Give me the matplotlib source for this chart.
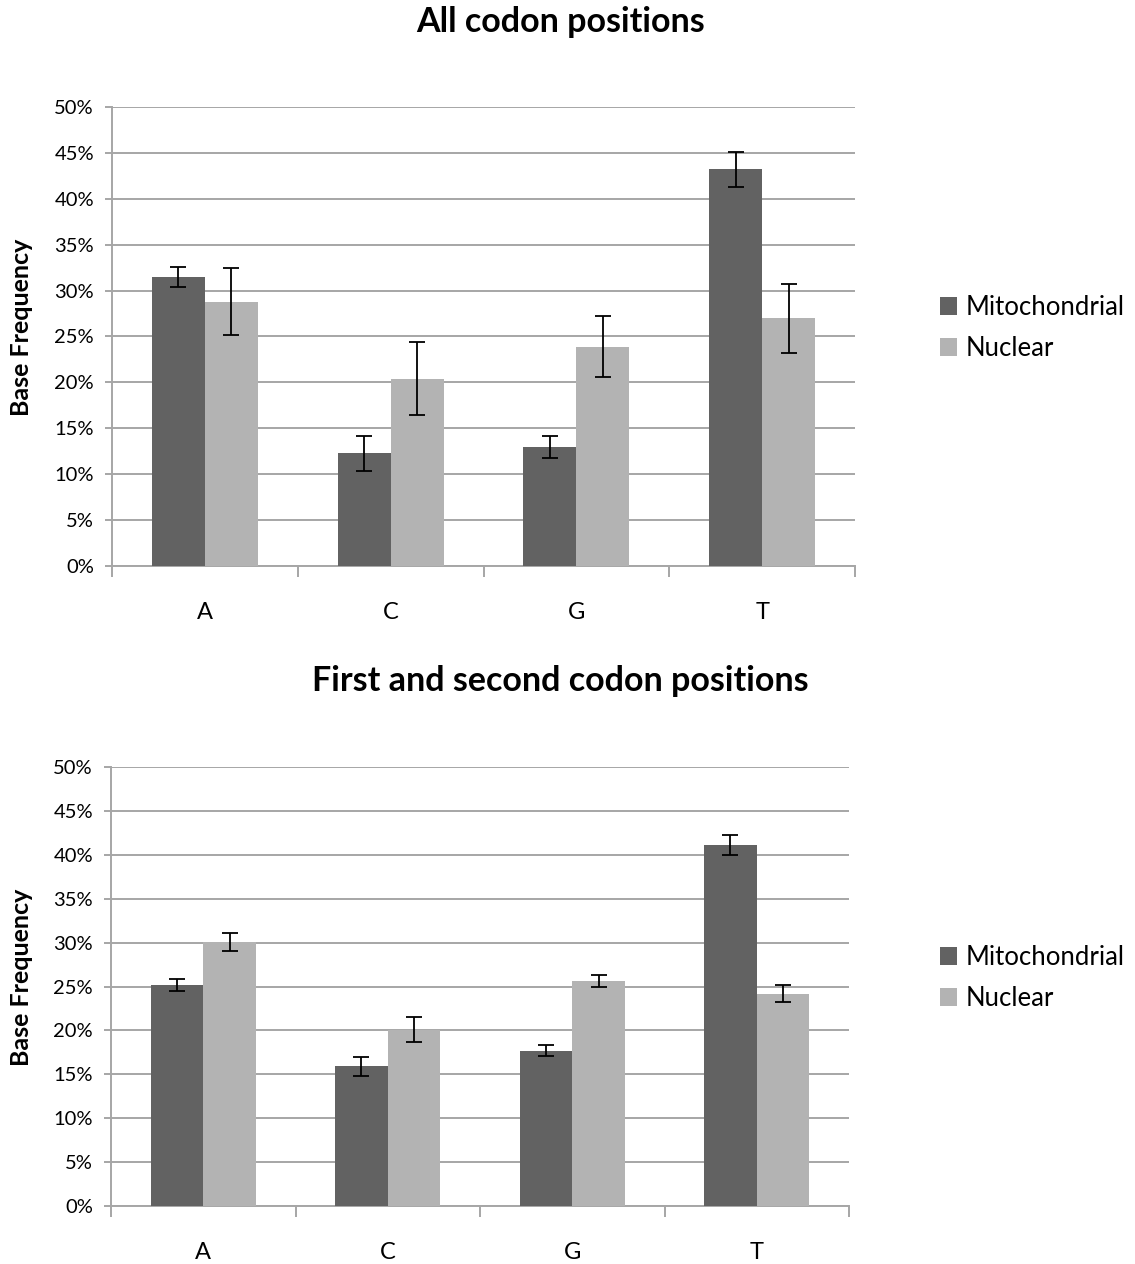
import numpy as np
import matplotlib
matplotlib.use('Agg')
import matplotlib.pyplot as plt
from matplotlib.ticker import MultipleLocator, FuncFormatter

plt.rcParams['font.family'] = ['Lato', 'DejaVu Sans']

bases = ['A', 'C', 'G', 'T']
series = ['Mitochondrial', 'Nuclear']
colors = ['#626262', '#b3b3b3']

# All codon positions (% base frequency and error)
all_mito = [31.5, 12.3, 13.0, 43.2]
all_mito_err = [1.1, 1.9, 1.2, 1.95]
all_nuc = [28.8, 20.4, 23.9, 27.0]
all_nuc_err = [3.65, 3.95, 3.35, 3.75]

# First and second codon positions
p12_mito = [25.2, 15.9, 17.7, 41.1]
p12_mito_err = [0.7, 1.1, 0.6, 1.15]
p12_nuc = [30.1, 20.1, 25.6, 24.2]
p12_nuc_err = [1.05, 1.45, 0.7, 1.0]

W, H = 1135, 1264
fig = plt.figure(figsize=(W / 100, H / 100), dpi=100)


def draw_panel(rect, title, title_y, mito, mito_err, nuc, nuc_err, legend_y):
    ax = fig.add_axes([rect[0] / W, 1 - rect[3] / H, (rect[2] - rect[0]) / W, (rect[3] - rect[1]) / H])
    x = np.arange(len(bases))
    bw = 1 / 3.5
    ekw = dict(ecolor='black', elinewidth=1.3, capsize=6, capthick=1.3)
    b1 = ax.bar(x - bw / 2, mito, bw, color=colors[0], yerr=mito_err, error_kw=ekw, zorder=3, label=series[0])
    b2 = ax.bar(x + bw / 2, nuc, bw, color=colors[1], yerr=nuc_err, error_kw=ekw, zorder=3, label=series[1])
    ax.set_xlim(-0.5, 3.5)
    ax.set_ylim(0, 50)
    ax.yaxis.set_major_locator(MultipleLocator(5))
    ax.yaxis.set_major_formatter(FuncFormatter(lambda v, p: '%d%%' % v))
    ax.grid(axis='y', color='#a6a6a6', linewidth=1.4, zorder=0)
    for s in ['top', 'right']:
        ax.spines[s].set_visible(False)
    for s in ['left', 'bottom']:
        ax.spines[s].set_color('#a6a6a6')
        ax.spines[s].set_linewidth(1.4)
    ax.set_xticks(x)
    ax.set_xticklabels(bases, fontsize=17)
    ax.set_xticks(np.arange(-0.5, 4, 1), minor=True)
    ax.tick_params(axis='x', which='major', length=0, pad=26)
    ax.tick_params(axis='x', which='minor', length=8, width=1.4, color='#a6a6a6')
    ax.tick_params(axis='y', length=5, width=1.4, color='#a6a6a6', labelsize=14.5, pad=8)
    ax.set_ylabel('Base Frequency', fontsize=18, fontweight='bold')
    ax.yaxis.set_label_coords((33 - rect[0]) / (rect[2] - rect[0]), 0.52)
    fig.text(0.494, 1 - title_y / H, title, ha='center', va='center', fontsize=24.5, fontweight='bold')
    fig.legend(handles=[b1, b2], loc='center left', bbox_to_anchor=(917 / W, 1 - legend_y / H),
               frameon=False, fontsize=18.5, handlelength=0.65, handleheight=0.65,
               handletextpad=0.35, labelspacing=0.62)
    return ax


draw_panel((112, 107, 855, 566), 'All codon positions', 22,
           all_mito, all_mito_err, all_nuc, all_nuc_err, 328)
draw_panel((111, 767, 849, 1206), 'First and second codon positions', 681,
           p12_mito, p12_mito_err, p12_nuc, p12_nuc_err, 978)

plt.savefig('out.png', dpi=100)
